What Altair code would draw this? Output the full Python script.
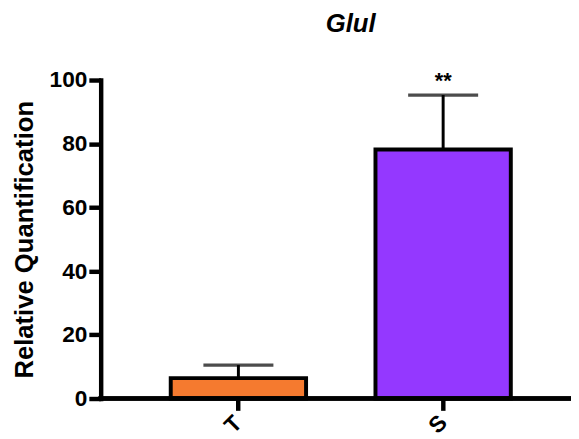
import altair as alt
import pandas as pd

groups = ["T", "S"]
means = [6.4, 78.2]
errors = [4.1, 17.1]
stars = ["", "**"]
colors = ["#F57A2F", "#9438FF"]

df = pd.DataFrame({
    "group": groups,
    "mean": means,
    "upper": [m + e for m, e in zip(means, errors)],
    "star": stars,
    "color": colors,
})

FONT = "Liberation Sans"
W, H = 467, 323
LW = 4.5

xenc = alt.X("group:N", sort=groups,
             scale=alt.Scale(paddingInner=0.339, paddingOuter=0.294),
             axis=alt.Axis(title=None, domain=False, labelAngle=-45,
                           labelFont=FONT, labelFontSize=23, labelFontWeight="bold",
                           labelColor="black", tickColor="black", tickWidth=LW,
                           tickSize=12, labelPadding=14, labelAlign="center",
                           labelBaseline="middle", labelOffset=-5))
yscale = alt.Scale(domain=[0, 100], nice=False, zero=True)

base = alt.Chart(df)

bars = base.mark_bar(stroke="black", strokeWidth=4).encode(
    x=xenc,
    y=alt.Y("mean:Q", scale=yscale,
            axis=alt.Axis(title="Relative Quantification", values=[0, 20, 40, 60, 80, 100],
                          grid=False, offset=10, domainColor="black", domainWidth=LW,
                          domainCap="square",
                          tickColor="black", tickWidth=LW, tickSize=12,
                          labelFont=FONT, labelFontSize=23, labelFontWeight="bold",
                          labelColor="black", labelPadding=2,
                          titleFont=FONT, titleFontSize=26, titleFontWeight="bold",
                          titleColor="black", titlePadding=12)),
    fill=alt.Fill("color:N", scale=None),
)

err = base.mark_rule(color="black", strokeWidth=3).encode(
    x=alt.X("group:N", sort=groups),
    y=alt.Y("mean:Q", scale=yscale),
    y2="upper:Q",
)

cap = base.mark_tick(color="black", thickness=3.3, size=71, orient="horizontal").encode(
    x=alt.X("group:N", sort=groups),
    y=alt.Y("upper:Q", scale=yscale),
)

star = base.mark_text(font=FONT, fontSize=22, fontWeight="bold", color="black",
                      baseline="alphabetic", dy=-7).encode(
    x=alt.X("group:N", sort=groups),
    y=alt.Y("upper:Q", scale=yscale),
    text="star:N",
)

baseline = base.mark_rule(color="black", strokeWidth=LW, strokeCap="square").encode(
    x=alt.value(-10), x2=alt.value(W), y=alt.value(H),
)

chart = alt.layer(bars, err, cap, star, baseline).properties(
    width=W, height=H,
    title=alt.Title("Glul", font=FONT, fontSize=26, fontWeight="bold", fontStyle="italic",
                    color="black", anchor="middle", dx=10, offset=33),
    padding={"left": 104, "top": 70, "right": 0, "bottom": 38},
    autosize=alt.AutoSizeParams(type="none"),
).configure_view(stroke=None)

chart.save("out.html", embed_options={"renderer": "svg", "actions": False})
